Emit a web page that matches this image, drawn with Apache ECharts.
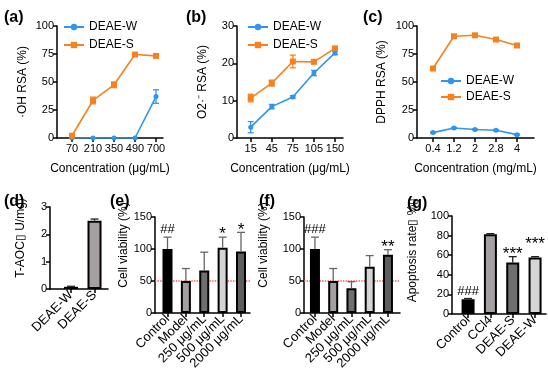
<!DOCTYPE html>
<html><head><meta charset="utf-8">
<script src="https://cdn.jsdelivr.net/npm/echarts@6/dist/echarts.min.js"></script>
<style>html,body{margin:0;padding:0;background:#fff}#c{width:548px;height:373px}</style>
</head><body><div id="c"></div>
<script>
const FONT = '"Liberation Sans", Arial, sans-serif';

// ---------- data ----------
const ohCats = ['70', '210', '350', '490', '700'];
const ohW = [0, 0, 0, 0, 37];
const ohWErr = [0, 0, 0, 0, 6];
const ohS = [2, 33.5, 47.5, 74.5, 73.3];
const ohSErr = [0.8, 3, 2.5, 1, 0.8];

const o2Cats = ['15', '45', '75', '105', '150'];
const o2W = [2.9, 8.4, 11.0, 17.4, 22.8];
const o2WErr = [1.5, 0.6, 0.3, 0.7, 0.5];
const o2S = [10.7, 14.7, 20.5, 20.4, 24.0];
const o2SErr = [1.0, 0.8, 1.7, 0.2, 0.5];

const dpCats = ['0.4', '1.2', '2', '2.8', '4'];
const dpW = [4.8, 8.9, 7.6, 6.9, 3.0];
const dpWErr = [0.5, 0.5, 0.5, 0.5, 0.5];
const dpS = [62, 90.8, 91.7, 87.9, 82.6];
const dpSErr = [1, 1, 1, 1, 1];

const aocCats = ['DEAE-W', 'DEAE-S'];
const aocVals = [0.08, 2.5];
const aocErr = [0.02, 0.06];

const cellCats = ['Control', 'Model', '250 μg/mL', '500 μg/mL', '2000 μg/mL'];
const cellE = [100, 50, 66.5, 102, 96];
const cellEErr = [18.5, 19.5, 28.5, 16.5, 30];
const cellEMarks = ['##', '', '', '*', '*'];
const cellF = [100, 50, 38.6, 72.2, 91.2];
const cellFErr = [18.5, 19.5, 10.3, 17.5, 7.7];
const cellFMarks = ['###', '', '', '', '**'];
const viabilityRef = 50;

const apoCats = ['Control', 'CCl4', 'DEAE-S', 'DEAE-W'];
const apoVals = [15, 81.3, 52.5, 57.7];
const apoErr = [0.8, 0.7, 6, 0.8];
const apoMarks = ['###', '', '***', '***'];

// ---------- styles / layout ----------
const BLUE = '#2f95ee', ORANGE = '#f7811d';
const cellFills = ['#000000', '#a59fa3', '#6f6f6f', '#d5d5d5', '#5d5d5d'];
const aocFills = ['#000000', '#a59fa3'];
const apoFills = ['#000000', '#a59fa3', '#6f6f6f', '#d5d5d5'];
const apoMarkLift = [0, 0, 0, 10];

const grids = [
  {left: 57, top: 26, width: 106, height: 112},
  {left: 237, top: 26, width: 106, height: 112},
  {left: 417, top: 26, width: 117, height: 112},
  {left: 50, top: 207, width: 58, height: 82},
  {left: 155, top: 217, width: 95, height: 96},
  {left: 304, top: 217, width: 96, height: 96},
  {left: 452, top: 216, width: 94, height: 98}
];
const xr = [[-0.714, 4.333], [-0.65, 4.38], [-0.76, 4.81], [-0.894, 1.574], [-0.68, 4.49], [-0.6, 4.66], [-0.72, 3.49]];

function xAxis(idx, cats, rotate, name) {
  const idxs = cats.map((_, i) => i);
  return {
    type: 'value', gridIndex: idx, min: xr[idx][0], max: xr[idx][1],
    name: name || '', nameLocation: 'middle', nameGap: 25,
    nameTextStyle: {fontSize: 12, color: '#000', fontFamily: FONT},
    axisLine: {show: true, onZero: false, lineStyle: {color: '#000', width: 1.5}},
    axisTick: {show: true, length: 4, customValues: idxs, lineStyle: {color: '#000', width: 1.5}},
    axisLabel: {customValues: idxs, formatter: v => cats[Math.round(v)], fontSize: rotate ? 13 : 11, color: '#000',
      fontFamily: FONT, margin: rotate ? 4 : 5, rotate: rotate || 0},
    splitLine: {show: false}
  };
}
function yAxis(idx, max, interval, name, gap, shift) {
  return {
    type: 'value', gridIndex: idx, min: 0, max: max, interval: interval,
    name: name, nameLocation: 'middle', nameGap: gap,
    nameTextStyle: {fontSize: 12, color: '#000', fontFamily: FONT, padding: [0, 0, 0, shift || 0]},
    axisLine: {show: true, onZero: false, lineStyle: {color: '#000', width: 1.5}},
    axisTick: {show: true, length: 4, lineStyle: {color: '#000', width: 1.5}},
    axisLabel: {fontSize: 11, color: '#000', fontFamily: FONT, margin: 3},
    splitLine: {show: false}
  };
}
function lineS(name, vals, color, symbol, size, idx) {
  return {type: 'line', name: name, xAxisIndex: idx, yAxisIndex: idx,
    data: vals.map((v, i) => [i, v]), symbol: symbol, symbolSize: size,
    lineStyle: {width: 1.6, color: color}, itemStyle: {color: color}, z: 4};
}
function errS(vals, errs, color, idx, both, cap, marks, lift) {
  return {type: 'custom', xAxisIndex: idx, yAxisIndex: idx, z: 5, silent: true, clip: false,
    data: vals.map((v, i) => [i, v, errs[i]]),
    encode: {x: 0, y: 1},
    renderItem: function (params, api) {
      const i = api.value(0), v = api.value(1), e = api.value(2);
      const top = api.coord([i, v + e]);
      const bot = api.coord([i, both ? v - e : v]);
      const ch = [];
      const st = {stroke: color, lineWidth: 1.3};
      if (e > 0) {
        ch.push({type: 'line', shape: {x1: top[0], y1: top[1], x2: bot[0], y2: bot[1]}, style: st});
        ch.push({type: 'line', shape: {x1: top[0] - cap, y1: top[1], x2: top[0] + cap, y2: top[1]}, style: st});
        if (both) ch.push({type: 'line', shape: {x1: bot[0] - cap, y1: bot[1], x2: bot[0] + cap, y2: bot[1]}, style: st});
      }
      const m = marks && marks[params.dataIndex];
      if (m) {
        const star = m.indexOf('*') >= 0;
        const up = lift ? lift[params.dataIndex] : 0;
        ch.push({type: 'text', style: {text: m, x: top[0], y: top[1] + (star ? 6 : -1) - up, align: 'center',
          verticalAlign: 'bottom', fontSize: star ? 17 : 13, fontFamily: FONT, fill: '#000'}});
      }
      return {type: 'group', children: ch};
    }};
}
function barS(vals, fills, idx, width) {
  return {type: 'bar', xAxisIndex: idx, yAxisIndex: idx, barWidth: width, z: 3,
    data: vals.map((v, i) => ({value: [i, v], itemStyle: {color: fills[i]}})),
    itemStyle: {borderColor: '#000', borderWidth: 2}};
}
function refLine(idx) {
  return {type: 'line', xAxisIndex: idx, yAxisIndex: idx, z: 1, symbol: 'none', silent: true,
    data: [[xr[idx][0], viabilityRef], [xr[idx][1], viabilityRef]],
    lineStyle: {color: '#ff4a4a', type: 'dotted', width: 1.3}};
}
function legend(left, top, gap) {
  return {data: ['DEAE-W', 'DEAE-S'], orient: 'vertical', left: left, top: top, padding: 0,
    itemGap: gap, itemWidth: 20, itemHeight: 8,
    textStyle: {fontSize: 12, color: '#000', fontFamily: FONT}};
}
const panelLetters = [['(a)', 4, 10], ['(b)', 186, 10], ['(c)', 363, 10], ['(d)', 4, 194], ['(e)', 110, 194], ['(f)', 259, 194], ['(g)', 407, 196]];

const option = {
  animation: false,
  backgroundColor: '#fff',
  title: panelLetters.map(p => ({text: p[0], left: p[1], top: p[2], padding: 0,
    textStyle: {fontSize: 16, fontWeight: 'bold', color: '#000', fontFamily: FONT}})),
  legend: [legend(63, 21, 6), legend(247, 21, 6), legend(440, 75, 4)],
  grid: grids,
  xAxis: [
    xAxis(0, ohCats, 0, 'Concentration (μg/mL)'),
    xAxis(1, o2Cats, 0, 'Concentration (μg/mL)'),
    xAxis(2, dpCats, 0, 'Concentration (mg/mL)'),
    xAxis(3, aocCats, 45),
    xAxis(4, cellCats, 45),
    xAxis(5, cellCats, 45),
    xAxis(6, apoCats, 45)
  ],
  yAxis: [
    yAxis(0, 100, 25, '·OH RSA (%)', 28),
    yAxis(1, 30, 10, 'O2·⁻ RSA (%)', 28),
    yAxis(2, 100, 25, 'DPPH RSA (%)', 29),
    yAxis(3, 3, 1, 'T-AOC\u25AF U/mg)', 23, 20),
    yAxis(4, 150, 50, 'Cell viability (%)', 20, 40),
    yAxis(5, 150, 50, 'Cell viability (%)', 34, 40),
    yAxis(6, 100, 20, 'Apoptosis rate\u25AF %\u25AF', 33, 30)
  ],
  series: [
    lineS('DEAE-W', ohW, BLUE, 'circle', 5, 0),
    lineS('DEAE-S', ohS, ORANGE, 'rect', 6, 0),
    errS(ohW, ohWErr, BLUE, 0, true, 3),
    errS(ohS, ohSErr, ORANGE, 0, true, 3),
    lineS('DEAE-W', o2W, BLUE, 'circle', 5, 1),
    lineS('DEAE-S', o2S, ORANGE, 'rect', 6, 1),
    errS(o2W, o2WErr, BLUE, 1, true, 3),
    errS(o2S, o2SErr, ORANGE, 1, true, 3),
    lineS('DEAE-W', dpW, BLUE, 'circle', 5, 2),
    lineS('DEAE-S', dpS, ORANGE, 'rect', 6, 2),
    errS(dpW, dpWErr, BLUE, 2, true, 3),
    errS(dpS, dpSErr, ORANGE, 2, true, 3),
    barS(aocVals, aocFills, 3, 14),
    errS(aocVals, aocErr, '#222', 3, false, 4),
    refLine(4),
    barS(cellE, cellFills, 4, 10),
    errS(cellE, cellEErr, '#666', 4, false, 4, cellEMarks),
    refLine(5),
    barS(cellF, cellFills, 5, 10),
    errS(cellF, cellFErr, '#666', 5, false, 4, cellFMarks),
    barS(apoVals, apoFills, 6, 13),
    errS(apoVals, apoErr, '#222', 6, false, 4, apoMarks, apoMarkLift)
  ]
};
const chart = echarts.init(document.getElementById('c'), null, {renderer: 'canvas'});
chart.setOption(option);
</script>
</body></html>
